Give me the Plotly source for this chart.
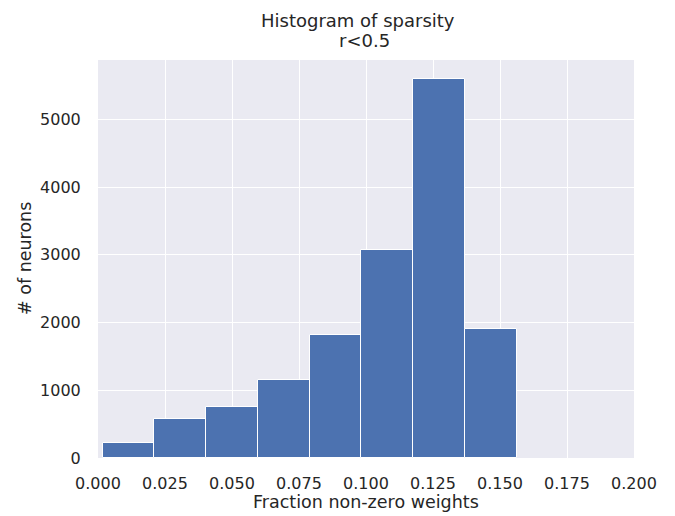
import plotly.graph_objects as go

# Histogram bins (edges) and counts per bin
bin_edges = [0.00175, 0.02106, 0.04037, 0.05968, 0.07899, 0.09830, 0.11761, 0.13692, 0.15623]
counts = [227, 581, 752, 1156, 1810, 3074, 5596, 1908]

x_ticks = [0.000, 0.025, 0.050, 0.075, 0.100, 0.125, 0.150, 0.175, 0.200]
y_ticks = [0, 1000, 2000, 3000, 4000, 5000]

centers = [(a + b) / 2 for a, b in zip(bin_edges[:-1], bin_edges[1:])]
widths = [b - a for a, b in zip(bin_edges[:-1], bin_edges[1:])]

W, H = 675, 516
L, R, T, B = 98, 41, 60, 58
plot_w, plot_h = W - L - R, H - T - B

font_family = "DejaVu Sans"
text_color = "#262626"


def px_x(px):
    return (px - L) / plot_w


def px_y(py):
    return (H - B - py) / plot_h


fig = go.Figure(
    go.Bar(
        x=centers,
        y=counts,
        width=widths,
        marker=dict(color="#4c72b0", line=dict(color="white", width=1)),
        hoverinfo="x+y",
    )
)

annotations = [
    dict(text="Histogram of sparsity", x=px_x(358), y=px_y(21), font=dict(size=18)),
    dict(text="r&lt;0.5", x=px_x(364), y=px_y(41), font=dict(size=18)),
    dict(text="Fraction non-zero weights", x=px_x(366), y=px_y(502), font=dict(size=17.5)),
    dict(text="# of neurons", x=px_x(25), y=px_y(259), font=dict(size=17.5), textangle=-90),
]
for a in annotations:
    a.update(xref="paper", yref="paper", showarrow=False,
             xanchor="center", yanchor="middle")
    a["font"].update(family=font_family, color=text_color)

fig.update_layout(
    width=W,
    height=H,
    margin=dict(l=L, r=R, t=T, b=B),
    paper_bgcolor="white",
    plot_bgcolor="#eaeaf2",
    bargap=0,
    showlegend=False,
    font=dict(family=font_family, size=16, color=text_color),
    annotations=annotations,
)

fig.update_xaxes(
    range=[0, 0.2],
    tickvals=x_ticks,
    ticktext=[f"{v:.3f}" for v in x_ticks],
    showgrid=True,
    gridcolor="white",
    gridwidth=1,
    zeroline=False,
    showline=False,
    ticks="outside",
    ticklen=11,
    tickcolor="rgba(0,0,0,0)",
)

fig.update_yaxes(
    range=[0, 5876],
    tickvals=y_ticks,
    showgrid=True,
    gridcolor="white",
    gridwidth=1,
    zeroline=False,
    showline=False,
    ticks="outside",
    ticklen=13,
    tickcolor="rgba(0,0,0,0)",
)

fig.write_html("out.html")
